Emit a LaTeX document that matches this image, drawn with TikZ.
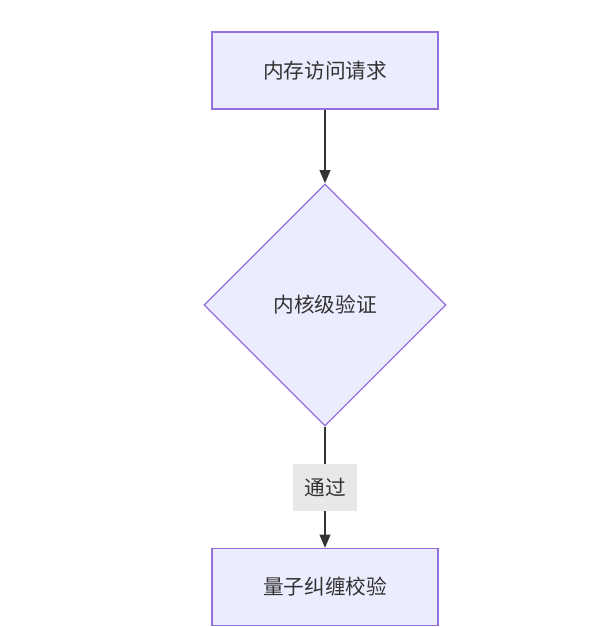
\documentclass[tikz,border=0pt]{standalone}
\usepackage{fontspec}
\setmainfont{Noto Sans CJK SC}
\usetikzlibrary{shapes.geometric,arrows.meta}
\definecolor{nodefill}{HTML}{ECECFF}
\definecolor{nodeline}{HTML}{9370DB}
\definecolor{edgeline}{HTML}{333333}
\definecolor{labelfill}{HTML}{E8E8E8}
\begin{document}
\begin{tikzpicture}[x=0.75pt,y=-0.75pt,
  procbox/.style={draw=nodeline,fill=nodefill,line width=0.9pt,minimum width=169.5pt,minimum height=57.75pt,inner sep=0pt,text=edgeline,font=\fontsize{15.5}{18}\selectfont},
  decbox/.style={diamond,draw=nodeline,fill=nodefill,line width=0.9pt,minimum width=181.5pt,minimum height=181.5pt,aspect=1,inner sep=0pt,text=edgeline,font=\fontsize{15.5}{18}\selectfont},
  edgelabel/.style={fill=labelfill,minimum width=48pt,minimum height=35pt,inner sep=0pt,text=edgeline,font=\fontsize{15.5}{18}\selectfont},
  flow/.style={draw=edgeline,line width=1.5pt,-{Triangle[length=10pt,width=8pt]}}]
\useasboundingbox (0,0) rectangle (606,627);
\node[procbox] (req) at (325,70.5) {内存访问请求};
\node[decbox] (ver) at (325,305) {内核级验证};
\node[procbox] (qc) at (325,587) {量子纠缠校验};
\draw[flow] (req) -- (ver);
\draw[flow] (ver) -- node[edgelabel] (lbl) {通过} (qc);
\end{tikzpicture}
\end{document}
